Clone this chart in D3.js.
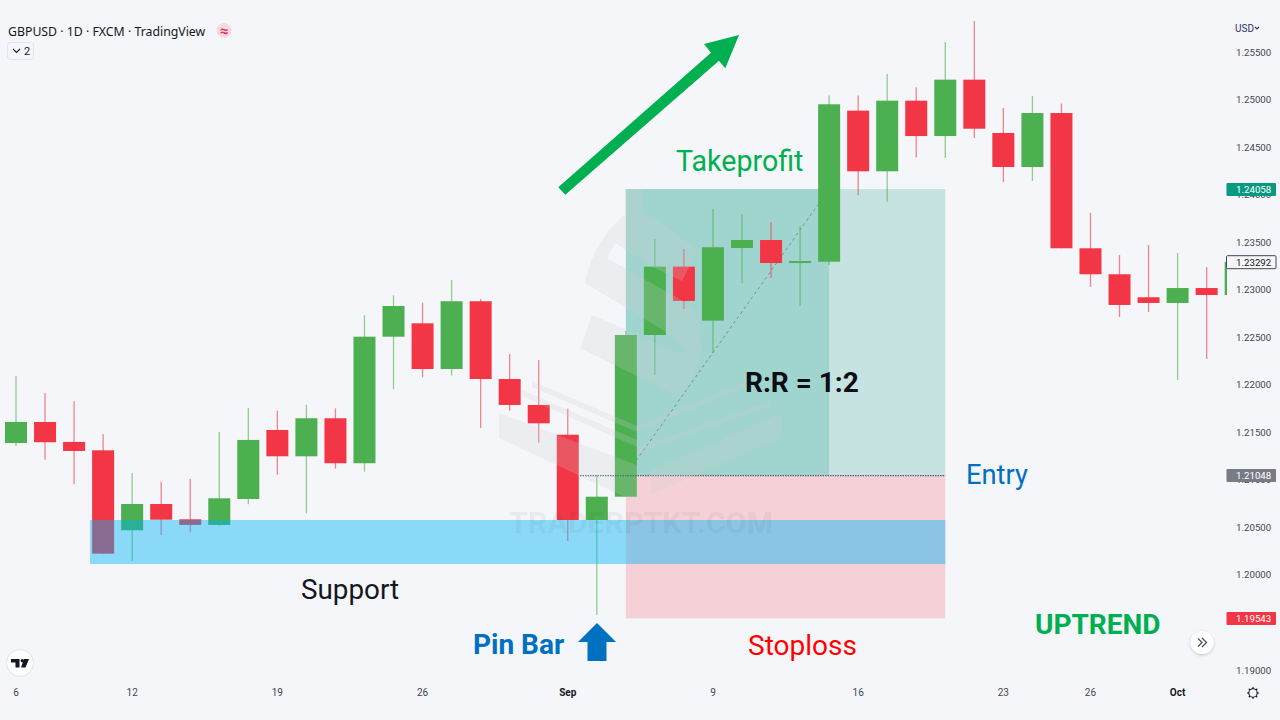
<!DOCTYPE html>
<html><head><meta charset="utf-8">
<script src="https://cdnjs.cloudflare.com/ajax/libs/d3/7.8.5/d3.min.js"></script>
<style>html,body{margin:0;padding:0;background:#f5f6f9;overflow:hidden}svg{display:block}</style>
</head><body><svg id="c" width="1280" height="720"></svg>
<script>
const opens =[1.21387,1.21608,1.21398,1.21310,1.20469,1.20745,1.20584,1.20525,1.20798,1.21524,1.21247,1.21647,1.21174,1.22505,1.22646,1.22165,1.22878,1.22060,1.21787,1.21474,1.20577,1.20822,1.22523,1.23242,1.22674,1.23438,1.23522,1.23280,1.23294,1.24883,1.24245,1.24988,1.24616,1.25209,1.24648,1.24290,1.24858,1.23435,1.23162,1.22920,1.22860,1.23017,1.22944];
const highs =[1.22092,1.21910,1.21826,1.21479,1.21071,1.20980,1.21008,1.21503,1.21755,1.21727,1.21790,1.21752,1.22733,1.22941,1.22863,1.23102,1.22902,1.22323,1.22260,1.21748,1.21050,1.22565,1.23533,1.23428,1.23852,1.23796,1.23712,1.23670,1.25042,1.25042,1.25269,1.25129,1.25605,1.25826,1.24911,1.25037,1.24958,1.23806,1.23365,1.23470,1.23386,1.23238,1.23292];
const lows  =[1.21359,1.21211,1.20953,1.20223,1.20146,1.20419,1.20448,1.20517,1.20742,1.21054,1.20648,1.21117,1.21085,1.21952,1.22078,1.22095,1.21545,1.21727,1.21393,1.20356,1.19578,1.20822,1.22102,1.22797,1.22334,1.23067,1.23123,1.22828,1.23259,1.23993,1.23925,1.24390,1.24385,1.24595,1.24133,1.24143,1.23435,1.23028,1.22712,1.22765,1.22050,1.22271,1.22944];
const closes=[1.21608,1.21395,1.21303,1.20223,1.20745,1.20580,1.20525,1.20805,1.21419,1.21247,1.21647,1.21174,1.22505,1.22828,1.22165,1.22878,1.22060,1.21787,1.21594,1.20577,1.20822,1.22523,1.23242,1.22881,1.23446,1.23522,1.23280,1.23301,1.24950,1.24245,1.24988,1.24616,1.25209,1.24693,1.24290,1.24858,1.23435,1.23162,1.22839,1.22860,1.23017,1.22944,1.23292];

const dateTickIndex =[0,4,9,14,19,24,29,34,37,40];
const dateTickLabels=["6","12","19","26","Sep","9","16","23","26","Oct"];
const boldDateLabels=["Sep","Oct"];
const priceTicks=[1.255,1.25,1.245,1.24,1.235,1.23,1.225,1.22,1.215,1.21,1.205,1.2,1.19];
const tagValues =[1.24058,1.23292,1.21048,1.19543];
const tagFills  =["#089981","#f5f6f9","#787b86","#f23645"];
const tagTexts  =["#ffffff","#131722","#ffffff","#ffffff"];
const entryPrice=1.21048, targetPrice=1.24058, stopPrice=1.19543;
const positionStart=21, positionEnd=32, currentBar=28;
const supportHigh=1.20577, supportLow=1.20114, supportStart=2.55;

const svg=d3.select("#c");
const W=1280,H=720;
const x=d3.scaleLinear().domain([0,42]).range([16,16+42*29.04]);
const y=d3.scaleLinear().domain([1.19,1.255]).range([669.9,52]);
const bw=22;
const candles=opens.map((o,i)=>({i,o,h:highs[i],l:lows[i],c:closes[i]}));
const RED="#f23645",GREEN="#4caf50",TEAL="rgba(8,153,129,0.2)",PINK="rgba(242,54,69,0.19)";
const F="Roboto, sans-serif";

svg.append("rect").attr("width",W).attr("height",H).attr("fill","#f5f6f9");
svg.append("defs").append("clipPath").attr("id","pane").append("rect").attr("width",1227).attr("height",H);
svg.select("defs").append("filter").attr("id","sh").attr("x","-30%").attr("y","-30%").attr("width","160%").attr("height","160%")
  .append("feDropShadow").attr("dx",0).attr("dy",1).attr("stdDeviation",1.6).attr("flood-color","#000").attr("flood-opacity",.22);

// position tool
const pane=svg.append("g").attr("clip-path","url(#pane)");
const bx=(g,a,b,p,q,f)=>g.append("rect").attr("x",x(a)).attr("width",x(b)-x(a)).attr("y",y(p)).attr("height",y(q)-y(p)).attr("fill",f);
bx(pane,positionStart,positionEnd,targetPrice,entryPrice,TEAL);
bx(pane,positionStart,currentBar,targetPrice,entryPrice,TEAL);
bx(pane,positionStart,positionEnd,entryPrice,stopPrice,PINK);
pane.append("line").attr("x1",x(positionStart)).attr("y1",y(entryPrice)).attr("x2",x(currentBar)).attr("y2",y(targetPrice))
  .attr("stroke","#787b86").attr("stroke-width",1).attr("stroke-dasharray","3 3").attr("opacity",.8);

// candles
const cg=pane.append("g").selectAll("g").data(candles).join("g");
cg.append("line").attr("x1",d=>x(d.i)).attr("x2",d=>x(d.i)).attr("y1",d=>y(d.h)).attr("y2",d=>y(d.l))
  .attr("stroke",d=>d.c>=d.o?GREEN:RED).attr("stroke-width",1.3).attr("opacity",.6);
cg.append("rect").attr("x",d=>x(d.i)-bw/2).attr("width",bw)
  .attr("y",d=>y(Math.max(d.o,d.c))).attr("height",d=>Math.max(1.5,y(Math.min(d.o,d.c))-y(Math.max(d.o,d.c))))
  .attr("fill",d=>d.c>=d.o?GREEN:RED);

// entry line
pane.append("line").attr("x1",580).attr("x2",x(positionEnd)).attr("y1",y(entryPrice)+.5).attr("y2",y(entryPrice)+.5)
  .attr("stroke","#2b3a55").attr("stroke-width",1).attr("stroke-dasharray","1.5 1");

// support band
bx(pane,supportStart,positionEnd,supportHigh,supportLow,"rgba(0,178,245,0.43)");

// watermark
const wm=svg.append("g").attr("fill","rgba(205,205,210,0.22)");
[
 "M585,283 C592,250 608,228 625,215 L625,189 L643,189 L643,213 C665,222 683,238 697,252 L682,281 L650,266 L615,243 L607,258 L690,305 Q706,322 697,342 L684,350 L666,332 Z",
 "M592,315 L682,354 L701,334 Q705,365 680,397 L580,348 Z",
 "M532,381 L637,426 L637,432 L532,387 Z",
 "M522,390 L637,440 L637,447 L522,396 Z",
 "M499,413 L637,465 L637,497 L625,497 L499,438 Z",
 "M637,426 L746,381 L746,387 L637,432 Z",
 "M637,447 L770,401 L770,407 L637,453 Z",
 "M650,470 L781,413 L781,438 L650,495 Z"
].forEach(d=>wm.append("path").attr("d",d));
svg.append("text").attr("x",641).attr("y",533).attr("text-anchor","middle").attr("font-family",F).attr("font-weight",700)
  .attr("font-size",30.4).attr("fill","rgba(60,65,75,0.075)").text("TRADERPTKT.COM");

// price axis
const axis=d3.axisRight(y).tickValues(priceTicks).tickSize(0).tickFormat(d3.format(".5f"));
const ax=svg.append("g").attr("transform","translate(1230,0)").call(axis);
ax.select(".domain").remove();
ax.selectAll("text").attr("x",6).attr("font-family",F).attr("font-size",9.7).attr("fill","#434651");

// time axis
svg.append("g").selectAll("text").data(dateTickLabels).join("text")
  .attr("x",(d,i)=>x(dateTickIndex[i])).attr("y",696).attr("text-anchor","middle").attr("font-family",F)
  .attr("font-size",10).attr("font-weight",d=>boldDateLabels.includes(d)?700:400).attr("fill",d=>boldDateLabels.includes(d)?"#131722":"#434651").text(d=>d);

// price tags
const tg=svg.append("g").selectAll("g").data(tagValues).join("g").attr("transform",d=>`translate(1226.5,${y(d)-6.2})`);
tg.append("rect").attr("width",49.5).attr("height",13).attr("rx",1).attr("fill",(d,i)=>tagFills[i]).attr("stroke",(d,i)=>i==1?"#434651":"none");
tg.append("text").attr("x",9.5).attr("y",10).attr("font-family",F).attr("font-size",9.7).attr("fill",(d,i)=>tagTexts[i]).text(d=>d.toFixed(5));

// header
svg.append("text").attr("x",8).attr("y",35.5).attr("font-family","'Noto Sans', sans-serif").attr("font-size",12.3).attr("fill","#131722").text("GBPUSD · 1D · FXCM · TradingView");
svg.append("circle").attr("cx",224).attr("cy",30.5).attr("r",7.5).attr("fill","#f7d9df");
svg.append("text").attr("x",224).attr("y",35.5).attr("text-anchor","middle").attr("font-family",F).attr("font-size",15).attr("font-weight",700).attr("fill","#e0305f").text("≈");
svg.append("rect").attr("x",7.5).attr("y",42.5).attr("width",26).attr("height",17).attr("rx",3).attr("fill","none").attr("stroke","#e0e3eb");
svg.append("path").attr("d","M13,49 L16.5,52.5 L20,49").attr("fill","none").attr("stroke","#131722").attr("stroke-width",1.1);
svg.append("text").attr("x",24).attr("y",55).attr("font-family",F).attr("font-size",11).attr("fill","#131722").text("2");
svg.append("text").attr("x",1235).attr("y",32).attr("font-family",F).attr("font-size",10).attr("fill","#2a3566").text("USD");
svg.append("path").attr("d","M1255,27 L1257,29 L1259,27").attr("fill","none").attr("stroke","#2a3566").attr("stroke-width",1.1);

// TV logo
svg.append("circle").attr("cx",20).attr("cy",663).attr("r",13.5).attr("fill","#fff").attr("stroke","#e0e3eb");
svg.append("path").attr("d","M11,659 H19.5 V667.5 H15.5 V662.5 H11 Z M24,659 H29 L25.5,667.5 H21 Z").attr("fill","#131722");
svg.append("circle").attr("cx",22.3).attr("cy",660.8).attr("r",1.7).attr("fill","#131722");

// scroll button
svg.append("circle").attr("cx",1202).attr("cy",642.5).attr("r",11.5).attr("fill","#fff").attr("filter","url(#sh)");
svg.append("path").attr("d","M1198,638.5 L1202,642.5 L1198,646.5 M1202,638 L1206.5,642.5 L1202,647").attr("fill","none").attr("stroke","#50535e").attr("stroke-width",1.4);

// gear
const gx=1253,gy=693;
svg.append("circle").attr("cx",gx).attr("cy",gy).attr("r",4.2).attr("fill","none").attr("stroke","#131722").attr("stroke-width",1.1);
d3.range(8).forEach(k=>{const a=k*Math.PI/4;svg.append("line").attr("x1",gx+4*Math.cos(a)).attr("y1",gy+4*Math.sin(a)).attr("x2",gx+6*Math.cos(a)).attr("y2",gy+6*Math.sin(a)).attr("stroke","#131722").attr("stroke-width",1.1);});

// arrows
svg.append("path").attr("d","M558.3,187.3 L711,52.7 L704,44 L739,35 L725.3,68.3 L719,60.7 L565.3,194.7 Z").attr("fill","#00b050");
svg.append("path").attr("d","M597,623 L616,642 L606.5,642 L606.5,661 L587.5,661 L587.5,642 L578,642 Z").attr("fill","#0070c0");

// labels
const labels=[
 ["Takeprofit",676,171,400,"#00b050",28.6],
 ["Entry",966,484,400,"#0070c0",27.3],
 ["Support",301,599,400,"#131722",27.8],
 ["Pin Bar",473,654,700,"#0070c0",28],
 ["Stoploss",748,654.5,400,"#ff0000",28],
 ["UPTREND",1035,634,700,"#00b050",28],
 ["R:R = 1:2",745,392,700,"#0b0e14",28]
];
svg.append("g").selectAll("text").data(labels).join("text").attr("x",d=>d[1]).attr("y",d=>d[2]).attr("font-weight",d=>d[3]).attr("fill",d=>d[4])
  .attr("font-family",F).attr("font-size",d=>d[5]).text(d=>d[0]);
</script></body></html>
